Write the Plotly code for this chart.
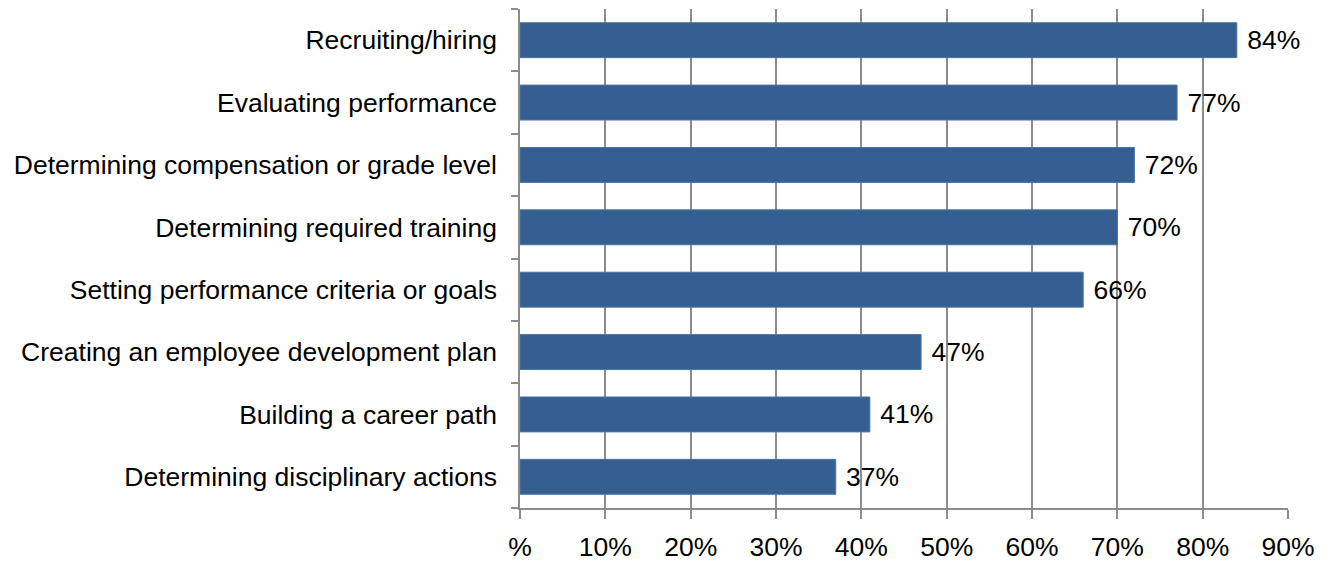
import plotly.graph_objects as go

# Share of respondents using the practice, per HR activity
activities = [
    "Recruiting/hiring",
    "Evaluating performance",
    "Determining compensation or grade level",
    "Determining required training",
    "Setting performance criteria or goals",
    "Creating an employee development plan",
    "Building a career path",
    "Determining disciplinary actions",
]
shares = [84, 77, 72, 70, 66, 47, 41, 37]

tick_values = [0, 10, 20, 30, 40, 50, 60, 70, 80, 90]
tick_labels = ["%", "10%", "20%", "30%", "40%", "50%", "60%", "70%", "80%", "90%"]

font_family = "Liberation Sans, Arial, sans-serif"
grid_grey = "#8c8c8c"
font_size = 26.5

fig = go.Figure(
    go.Bar(
        x=shares,
        y=activities,
        orientation="h",
        marker=dict(color="#365f91", line=dict(color="#4a74a4", width=1)),
        text=shares,
        texttemplate=" %{text}%",
        textposition="outside",
        textfont=dict(family=font_family, size=font_size, color="#000000"),
        cliponaxis=False,
    )
)

fig.update_layout(
    width=1331,
    height=561,
    margin=dict(l=520, r=43, t=9, b=53),
    paper_bgcolor="white",
    plot_bgcolor="white",
    bargap=0.44,
    showlegend=False,
    font=dict(family=font_family, size=font_size, color="#000000"),
)

fig.update_xaxes(
    range=[0, 90],
    tickvals=tick_values,
    ticktext=tick_labels,
    showgrid=True,
    gridcolor=grid_grey,
    gridwidth=1.5,
    showline=True,
    linecolor=grid_grey,
    linewidth=1.5,
    ticks="outside",
    ticklen=9,
    tickcolor=grid_grey,
    tickwidth=1.5,
    ticklabelstandoff=5,
    zeroline=False,
    automargin=False,
    tickfont=dict(size=font_size),
)

fig.update_yaxes(
    categoryorder="array",
    categoryarray=activities[::-1],
    showline=True,
    linecolor=grid_grey,
    linewidth=1.5,
    ticks="outside",
    tickson="boundaries",
    ticklen=7,
    tickcolor=grid_grey,
    tickwidth=1.5,
    ticklabelstandoff=16,
    showgrid=False,
    automargin=False,
    tickfont=dict(size=font_size),
)

fig.write_html("out.html")
